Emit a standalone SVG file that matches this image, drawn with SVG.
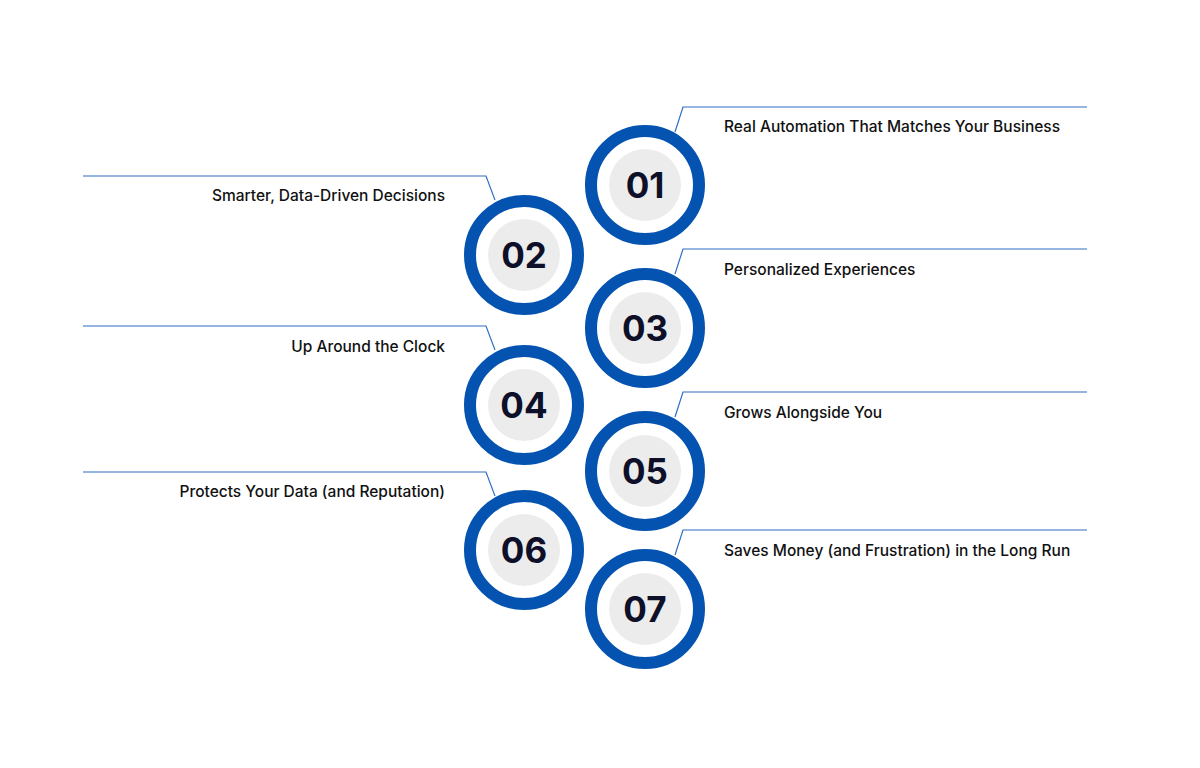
<svg xmlns="http://www.w3.org/2000/svg" width="1200" height="768" viewBox="0 0 1200 768">
<style>
.ring{fill:#fff;stroke:#0553b1;stroke-width:12}
.core{fill:#ececec}
.num{font-family:Inter,"Open Sans",sans-serif;font-weight:700;font-size:35px;fill:#0d1028;text-anchor:middle}
.lbl{font-family:Inter,"Open Sans",sans-serif;font-weight:500;font-size:15.5px;fill:#111}
.l{fill:none;stroke:#2f6fc4;stroke-width:1.2}
</style>
<rect width="1200" height="768" fill="#fff"/>
<g id="connectors">
<polyline class="l" points="1087,107 683,107 675,132"/>
<polyline class="l" points="1087,249 683,249 675,274"/>
<polyline class="l" points="1087,392 683,392 675,417"/>
<polyline class="l" points="1087,530 683,530 675,555"/>
<polyline class="l" points="83,176 486,176 495,200"/>
<polyline class="l" points="83,326 486,326 495,350"/>
<polyline class="l" points="83,472 486,472 495,496"/>
</g>
<g id="n01"><circle class="ring" cx="645" cy="185" r="54"/><circle class="core" cx="645" cy="185" r="36"/><text class="num" x="645" y="198">01</text><text class="lbl" x="724" y="132">Real Automation That Matches Your Business</text></g>
<g id="n02"><circle class="ring" cx="524" cy="255" r="54"/><circle class="core" cx="524" cy="255" r="36"/><text class="num" x="524" y="268">02</text><text class="lbl" x="445" y="201" text-anchor="end">Smarter, Data-Driven Decisions</text></g>
<g id="n03"><circle class="ring" cx="645" cy="328" r="54"/><circle class="core" cx="645" cy="328" r="36"/><text class="num" x="645" y="341">03</text><text class="lbl" x="724" y="275">Personalized Experiences</text></g>
<g id="n04"><circle class="ring" cx="524" cy="405" r="54"/><circle class="core" cx="524" cy="405" r="36"/><text class="num" x="524" y="418">04</text><text class="lbl" x="445" y="352" text-anchor="end">Up Around the Clock</text></g>
<g id="n05"><circle class="ring" cx="645" cy="471" r="54"/><circle class="core" cx="645" cy="471" r="36"/><text class="num" x="645" y="484">05</text><text class="lbl" x="724" y="418">Grows Alongside You</text></g>
<g id="n06"><circle class="ring" cx="524" cy="550" r="54"/><circle class="core" cx="524" cy="550" r="36"/><text class="num" x="524" y="563">06</text><text class="lbl" x="445" y="497" text-anchor="end">Protects Your Data (and Reputation)</text></g>
<g id="n07"><circle class="ring" cx="645" cy="609" r="54"/><circle class="core" cx="645" cy="609" r="36"/><text class="num" x="645" y="622">07</text><text class="lbl" x="724" y="556">Saves Money (and Frustration) in the Long Run</text></g>
</svg>
